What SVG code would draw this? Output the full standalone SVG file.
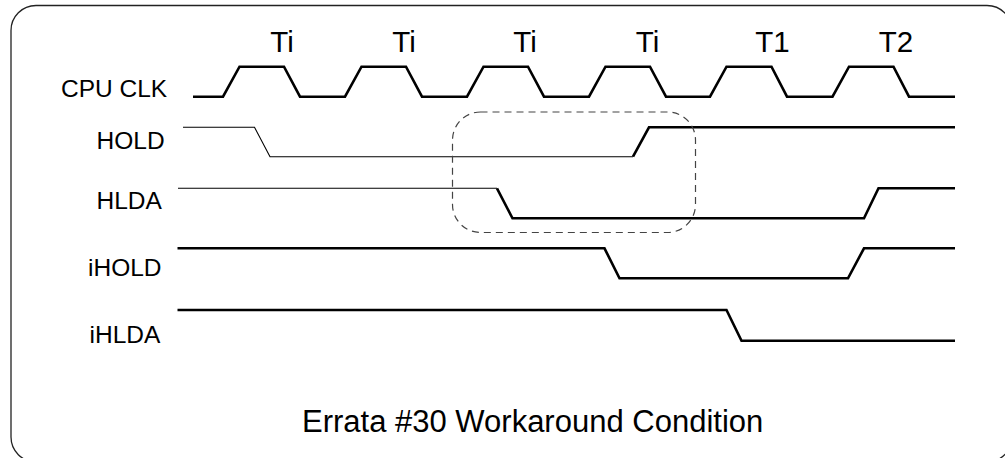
<svg xmlns="http://www.w3.org/2000/svg" width="1005" height="458" viewBox="0 0 1005 458">
<style>
text{font-family:"Liberation Sans",Arial,sans-serif;fill:#000}
.lbl{font-size:24.5px}
.cyc{font-size:29.5px;text-anchor:middle}
.ttl{font-size:31px}
.thick{fill:none;stroke:#000;stroke-width:2.6;stroke-linejoin:miter}
.thin{fill:none;stroke:#000;stroke-width:1.1}
.dash{fill:none;stroke:#444;stroke-width:1.2;stroke-dasharray:7 5}
</style>
<rect x="11" y="5.5" width="1001" height="456.5" rx="25" ry="25" fill="#fff" stroke="#222" stroke-width="1.3"/>
<g id="cycles">
<text class="cyc" x="282" y="52">Ti</text>
<text class="cyc" x="404" y="52">Ti</text>
<text class="cyc" x="525" y="52">Ti</text>
<text class="cyc" x="647.5" y="52">Ti</text>
<text class="cyc" x="772.5" y="52">T1</text>
<text class="cyc" x="896" y="52">T2</text>
</g>
<g id="cpuclk">
<text class="lbl" x="61" y="96.5">CPU CLK</text>
<path class="thick" d="M193 96.7H223L239.5 66.7H284L300 96.7H345L361.5 66.7H406L422 96.7H467L483.5 66.7H528L544 96.7H589L605.5 66.7H650L666 96.7H710L726.5 66.7H771.5L787 96.7H832.5L849 66.7H893.5L909 96.7H955"/>
</g>
<g id="hold">
<text class="lbl" x="96.5" y="149">HOLD</text>
<path class="thin" d="M183 127.3H254.5L270 156.7H633"/>
<path class="thick" d="M633 156.7L649 127.3H955"/>
</g>
<g id="hlda">
<text class="lbl" x="96.5" y="209.3">HLDA</text>
<path class="thin" d="M178 188.3H497"/>
<path class="thick" d="M497 188.3L512.5 218.3H864L878.5 188.3H955"/>
</g>
<g id="ihold">
<text class="lbl" x="88" y="276">iHOLD</text>
<path class="thick" d="M177.5 248.3H604.5L619.5 278.3H848L864 248.3H955"/>
</g>
<g id="ihlda">
<text class="lbl" x="89.5" y="343.3">iHLDA</text>
<path class="thick" d="M177.5 310H726.5L741.5 340.7H955"/>
</g>
<g id="connectors">
<rect class="dash" x="452.5" y="112" width="243" height="120.5" rx="28" ry="28"/>
</g>
<g id="title">
<text class="ttl" x="302" y="432">Errata #30 Workaround Condition</text>
</g>
</svg>
